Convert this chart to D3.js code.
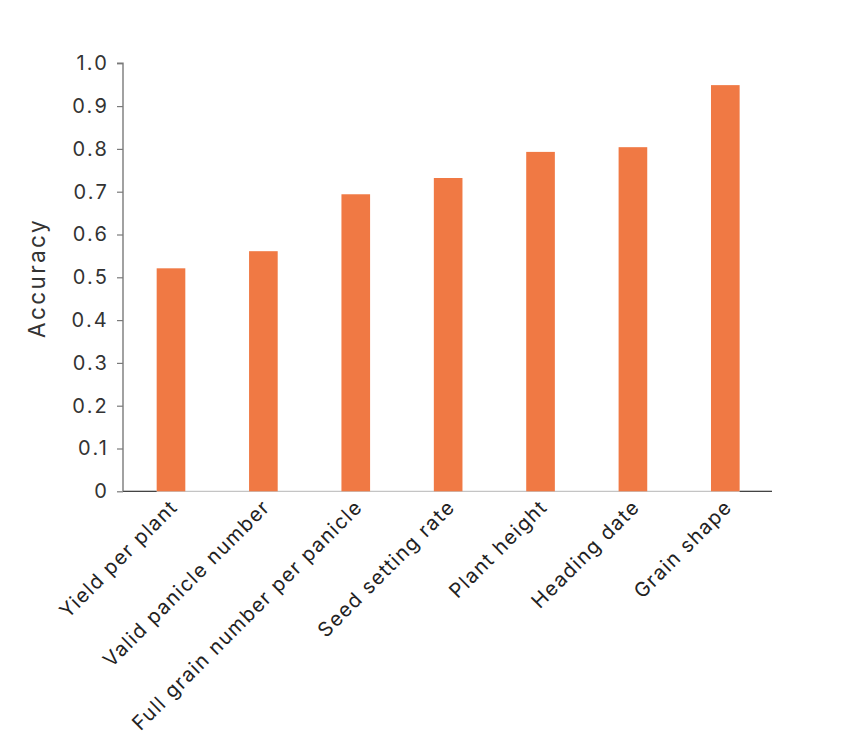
<!DOCTYPE html>
<html><head><meta charset="utf-8">
<script src="https://cdn.jsdelivr.net/npm/d3@7"></script>
<style>body{margin:0;background:#fff;} text{font-family:Inter, "Open Sans", sans-serif;}</style>
</head><body><svg id="c" width="866" height="737"></svg>
<script>
const categories = ["Yield per plant","Valid panicle number","Full grain number per panicle","Seed setting rate","Plant height","Heading date","Grain shape"];
const accuracy = [0.521, 0.561, 0.694, 0.732, 0.793, 0.804, 0.949];
const yTicks = [0,0.1,0.2,0.3,0.4,0.5,0.6,0.7,0.8,0.9,1.0];
const yTickLabels = ["0","0.1","0.2","0.3","0.4","0.5","0.6","0.7","0.8","0.9","1.0"];

const svg = d3.select("#c");
const x0 = 123, x1 = 772, yBase = 491.3, yTop = 63.3;
const x = d3.scaleBand().domain(categories).range([124.8, 771.5]).paddingInner(0.69).paddingOuter(0.345);
const y = d3.scaleLinear().domain([0,1]).range([yBase, yTop]);

// x baseline
svg.append("line").attr("x1", x0).attr("x2", x1).attr("y1", yBase).attr("y2", yBase)
  .attr("stroke", "#c4c4c4").attr("stroke-width", 1.2);
svg.append("line").attr("x1", x0).attr("x2", x(categories[0])).attr("y1", yBase).attr("y2", yBase)
  .attr("stroke", "#444").attr("stroke-width", 1.2);
svg.append("line").attr("x1", x(categories[6]) + x.bandwidth()).attr("x2", x1).attr("y1", yBase).attr("y2", yBase)
  .attr("stroke", "#444").attr("stroke-width", 1.2);

// bars
svg.selectAll("rect.bar").data(categories).join("rect").attr("class","bar")
  .attr("x", d => x(d)).attr("width", x.bandwidth())
  .attr("y", (d,i) => y(accuracy[i])).attr("height", (d,i) => yBase - y(accuracy[i]))
  .attr("fill", "#f07944");

// y axis
const yAxis = d3.axisLeft(y).tickValues(yTicks).tickFormat((d,i) => yTickLabels[i]).tickSize(6).tickPadding(8);
const gy = svg.append("g").attr("transform", `translate(${x0},0)`).call(yAxis);
gy.select(".domain").attr("stroke", "#7a7a7a").attr("stroke-width", 1.4).attr("d", `M-6,${yTop}H0V${yBase}`);
gy.selectAll(".tick line").attr("stroke", "#7a7a7a").attr("stroke-width", 1.2);
gy.selectAll(".tick text").attr("fill", "#333").style("font-size", "20px")
  .style("letter-spacing", "2.2px").style("font-family", "Inter, sans-serif");

// x labels
svg.selectAll("text.xl").data(categories).join("text").attr("class","xl")
  .attr("transform", d => `translate(${x(d) + x.bandwidth()/2 + 8},${yBase + 17}) rotate(-45)`)
  .attr("text-anchor", "end")
  .attr("fill", "#222").style("font-size", "20px").style("letter-spacing", "1.4px")
  .text(d => d);

// y title
svg.append("text").attr("transform", `translate(45,${278}) rotate(-90)`)
  .attr("text-anchor", "middle").attr("fill", "#333").style("font-size", "22.5px")
  .style("letter-spacing", "2.4px").text("Accuracy");
</script></body></html>
